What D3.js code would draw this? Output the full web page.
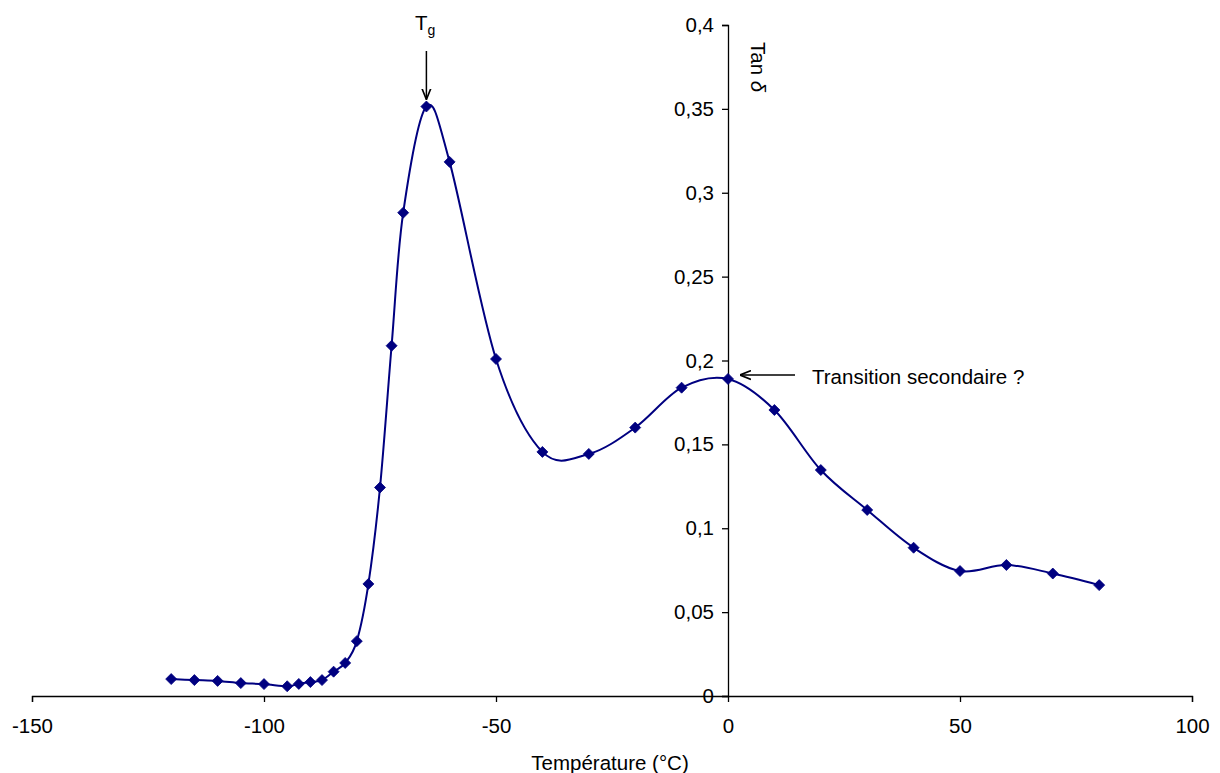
<!DOCTYPE html>
<html>
<head>
<meta charset="utf-8">
<script src="https://cdn.jsdelivr.net/npm/d3@7"></script>
<style>
  html, body { margin: 0; padding: 0; background: #fff; }
  svg { display: block; font-family: "Liberation Sans", Arial, sans-serif; }
</style>
</head>
<body>
<svg id="chart" width="1220" height="773"></svg>
<script>
// ---- data ----
const temperatures = [-120, -115, -110, -105, -100, -95, -92.5, -90, -87.5, -85, -82.5, -80, -77.5, -75, -72.5, -70, -65, -60, -50, -40, -30, -20, -10, 0, 10, 20, 30, 40, 50, 60, 70, 80];
const tanDelta = [0.0101, 0.0095, 0.009, 0.0077, 0.0071, 0.0058, 0.0072, 0.0083, 0.0095, 0.0145, 0.0197, 0.0327, 0.0668, 0.1243, 0.2088, 0.2881, 0.3514, 0.3184, 0.2009, 0.1455, 0.1443, 0.1600, 0.1838, 0.1890, 0.1705, 0.1347, 0.1109, 0.0884, 0.0745, 0.0781, 0.0730, 0.0661];
const xTicks = [-150, -100, -50, 0, 50, 100];
const xTickLabels = ["-150", "-100", "-50", "0", "50", "100"];
const yTicks = [0, 0.05, 0.1, 0.15, 0.2, 0.25, 0.3, 0.35, 0.4];
const yTickLabels = ["0", "0,05", "0,1", "0,15", "0,2", "0,25", "0,3", "0,35", "0,4"];

const FS = 20.5;
const svg = d3.select("#chart");
const x = d3.scaleLinear().domain([-150, 100]).range([32, 1192]);
const y = d3.scaleLinear().domain([0, 0.4]).range([696, 25]);
const navy = "#000080";

// arrow marker
const defs = svg.append("defs");
defs.append("marker").attr("id", "arr").attr("viewBox", "0 0 10 10")
  .attr("refX", 10).attr("refY", 5).attr("markerWidth", 11).attr("markerHeight", 11)
  .attr("markerUnits", "userSpaceOnUse").attr("orient", "auto")
  .append("path").attr("d", "M0,1 L10,5 L0,9").attr("fill", "none").attr("stroke", "#000").attr("stroke-width", 1.5);

// x axis
const xAxis = d3.axisBottom(x).tickValues(xTicks).tickFormat((d, i) => xTickLabels[i]).tickSize(6).tickPadding(16);
const gx = svg.append("g").attr("transform", `translate(0,${y(0)})`).call(xAxis);
gx.select(".domain").attr("stroke", "#000").attr("stroke-width", 1.3);
gx.selectAll(".tick line").attr("stroke", "#000").attr("stroke-width", 1.3);
gx.selectAll(".tick text").attr("font-size", FS).attr("fill", "#000")
  .attr("font-family", "Liberation Sans, Arial, sans-serif");

// y axis at x = 0
const yAxis = d3.axisLeft(y).tickValues(yTicks).tickFormat((d, i) => yTickLabels[i]).tickSize(6).tickPadding(8);
const gy = svg.append("g").attr("transform", `translate(${x(0)},0)`).call(yAxis);
gy.select(".domain").attr("stroke", "#000").attr("stroke-width", 1.3);
gy.selectAll(".tick line").attr("stroke", "#000").attr("stroke-width", 1.3);
gy.selectAll(".tick text").attr("font-size", FS).attr("fill", "#000")
  .attr("font-family", "Liberation Sans, Arial, sans-serif");

// curve
const pts = temperatures.map((t, i) => [t, tanDelta[i]]);
const line = d3.line().x(d => x(d[0])).y(d => y(d[1])).curve(d3.curveCatmullRom.alpha(0));
svg.append("path").datum(pts).attr("d", line).attr("fill", "none")
  .attr("stroke", navy).attr("stroke-width", 2);

// diamond markers
svg.append("g").selectAll("path").data(pts).join("path")
  .attr("d", "M0,-5.5 L5.5,0 L0,5.5 L-5.5,0 Z")
  .attr("transform", d => `translate(${x(d[0])},${y(d[1])})`)
  .attr("fill", navy).attr("stroke", navy).attr("stroke-width", 0.8);

// axis titles
svg.append("text").attr("x", 610).attr("y", 770).attr("text-anchor", "middle")
  .attr("font-size", FS).text("Température (°C)");

const tanLbl = svg.append("text").attr("transform", `translate(751,42) rotate(90)`)
  .attr("font-size", FS);
tanLbl.append("tspan").text("Tan ");
tanLbl.append("tspan").attr("font-style", "italic").text("δ");

// Tg annotation
const tg = svg.append("text").attr("x", 415).attr("y", 30).attr("font-size", FS);
tg.append("tspan").text("T");
tg.append("tspan").attr("font-size", 14).attr("dy", 5).text("g");
svg.append("line").attr("x1", x(-65)).attr("x2", x(-65)).attr("y1", 51).attr("y2", y(0.3514) - 7)
  .attr("stroke", "#000").attr("stroke-width", 1.5).attr("marker-end", "url(#arr)");

// Transition secondaire annotation
svg.append("line").attr("x1", 795).attr("x2", x(0) + 12).attr("y1", 375).attr("y2", 375)
  .attr("stroke", "#000").attr("stroke-width", 1.5).attr("marker-end", "url(#arr)");
svg.append("text").attr("x", 812).attr("y", 384).attr("font-size", FS).text("Transition secondaire ?");
</script>
</body>
</html>
